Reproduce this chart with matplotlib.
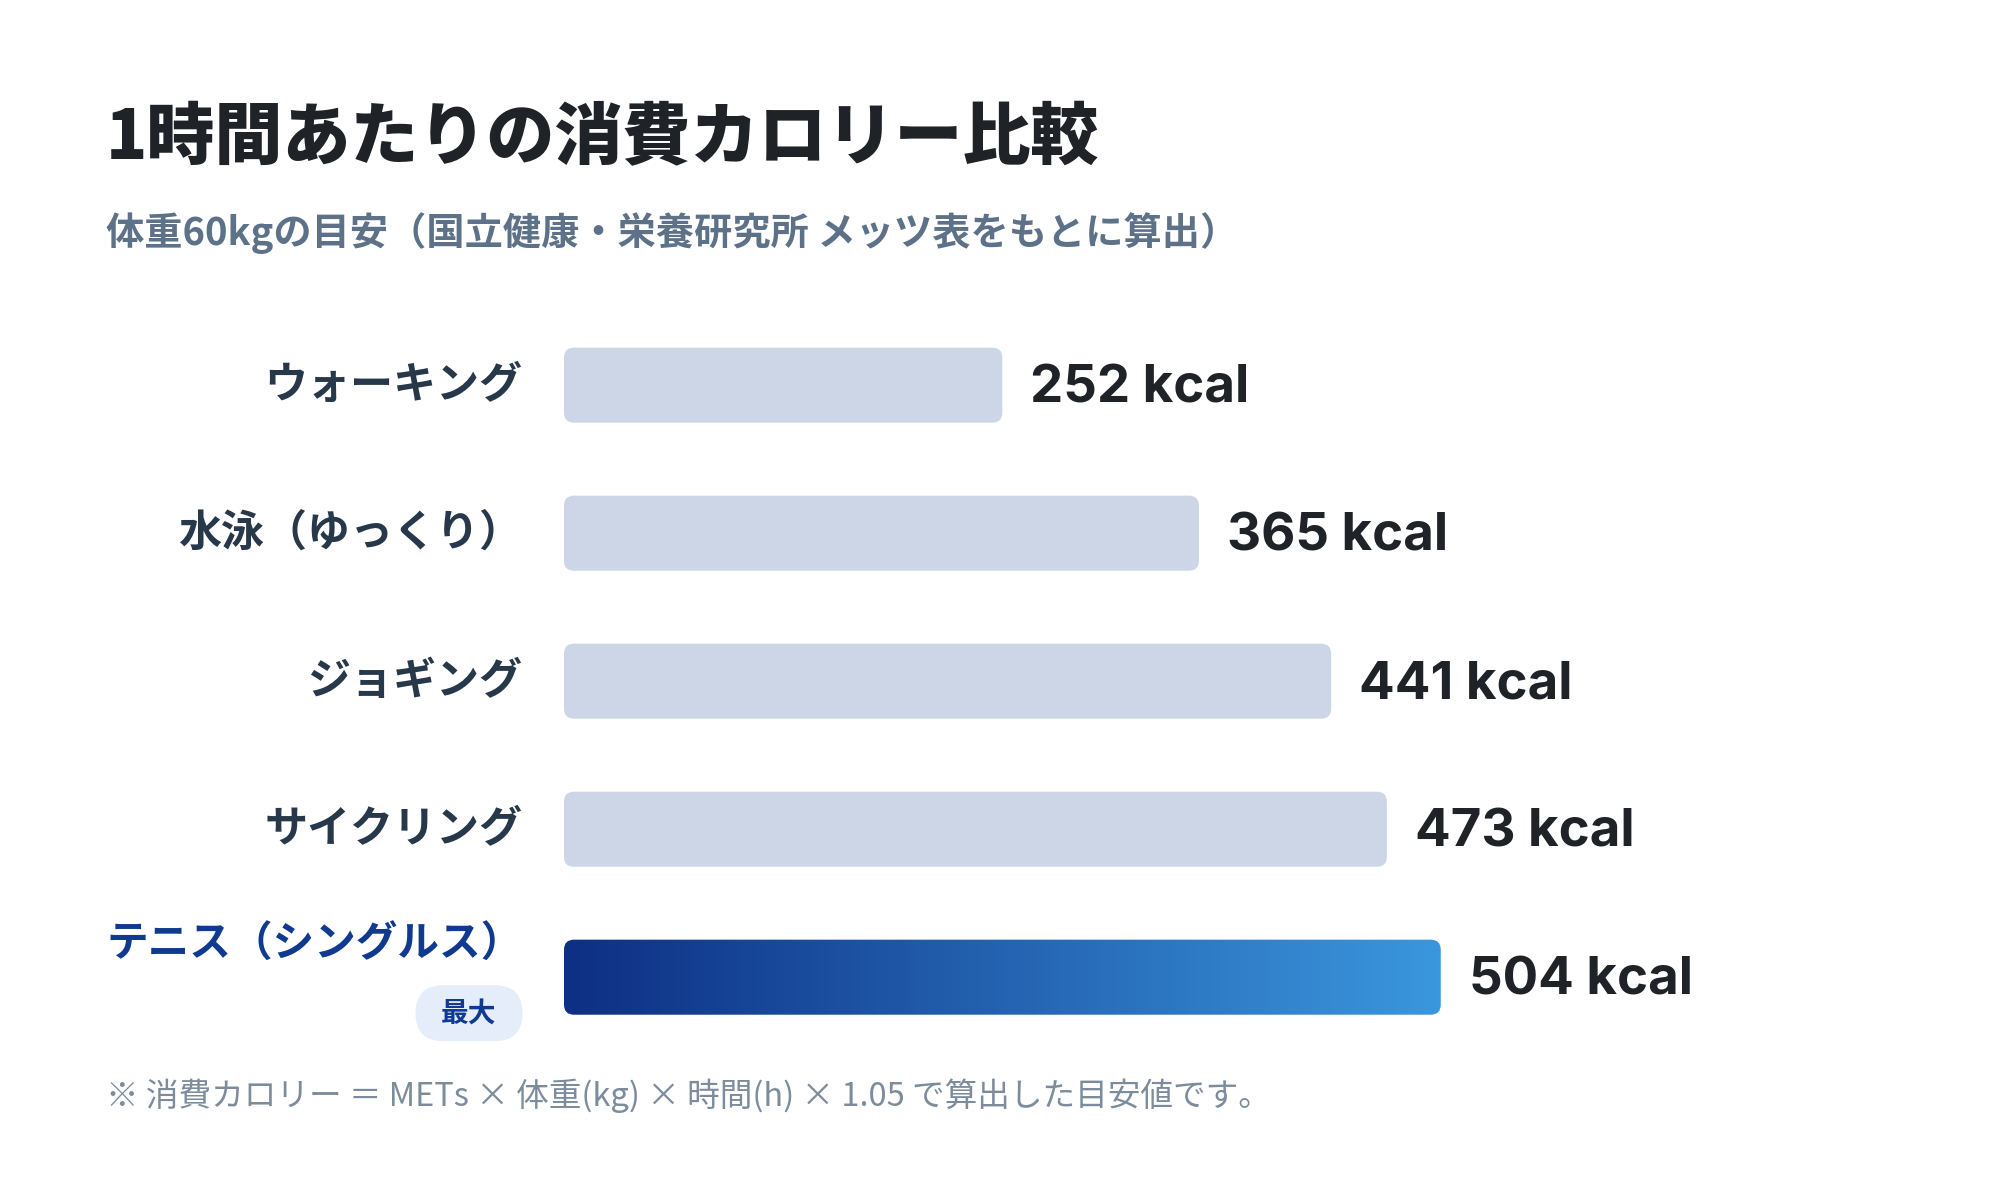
import numpy as np
import matplotlib.pyplot as plt
from matplotlib.patches import FancyBboxPatch
from matplotlib.colors import LinearSegmentedColormap

plt.rcParams['font.family'] = ['Noto Sans CJK JP', 'DejaVu Sans']

# データ
categories = ['ウォーキング', '水泳（ゆっくり）', 'ジョギング', 'サイクリング', 'テニス（シングルス）']
kcal = [252, 365, 441, 473, 504]
value_labels = ['252 kcal', '365 kcal', '441 kcal', '473 kcal', '504 kcal']
highlight = 4
badge = '最大'

title = '1時間あたりの消費カロリー比較'
subtitle = '体重60kgの目安（国立健康・栄養研究所 メッツ表をもとに算出）'
footnote = '※ 消費カロリー ＝ METs × 体重(kg) × 時間(h) × 1.05 で算出した目安値です。'

fig = plt.figure(figsize=(20, 12), dpi=100)
fig.patch.set_facecolor('white')

ax = fig.add_axes([0.282, 0.124, 0.668, 0.6167])
ax.set_xlim(0, 768)
ax.set_ylim(4.5, -0.5)
ax.axis('off')

bar_h = 0.507
# 角丸のためのアスペクト補正（y単位/px ÷ x単位/px）
px_x = 768 / (0.668 * 2000)
px_y = 5 / (0.6167 * 1200)
aspect = px_y / px_x
radius = 10 * px_x

grad_cmap = LinearSegmentedColormap.from_list('g', ['#0d2f84', '#3b97dd'])

for i, (cat, v) in enumerate(zip(categories, kcal)):
    patch = FancyBboxPatch((0, i - bar_h / 2), v, bar_h,
                           boxstyle=f'round,pad=0,rounding_size={radius}',
                           mutation_aspect=aspect, linewidth=0,
                           facecolor='#cdd6e6' if i != highlight else 'none')
    ax.add_patch(patch)
    if i == highlight:
        grad = np.linspace(0, 1, 256).reshape(1, -1)
        im = ax.imshow(grad, cmap=grad_cmap, aspect='auto',
                       extent=(0, v, i + bar_h / 2, i - bar_h / 2), zorder=2)
        im.set_clip_path(patch)

    ax.annotate(value_labels[i], xy=(v, i), xytext=(20, -2.5), textcoords='offset points',
                ha='left', va='center', fontsize=38, fontweight='bold', color='#1f2328',
                family=['Inter', 'DejaVu Sans'])

    if i == highlight:
        ax.annotate(cat, xy=(0, i), xytext=(-30, 23), textcoords='offset points',
                    ha='right', va='center', fontsize=30, fontweight='bold', color='#0f3a8f')
        # 「最大」バッジ
        bw, bh = 107 * px_x, 56 * px_y
        bx, by = -95 * px_x, i + 36 * px_y
        pill = FancyBboxPatch((bx - bw / 2, by - bh / 2), bw, bh,
                              boxstyle=f'round,pad=0,rounding_size={28 * px_x}',
                              mutation_aspect=aspect, linewidth=0,
                              facecolor='#e4edf9', clip_on=False)
        ax.add_patch(pill)
        ax.text(bx, by, badge, ha='center', va='center', fontsize=20,
                fontweight='bold', color='#0f3a8f')
    else:
        ax.annotate(cat, xy=(0, i), xytext=(-30, 0), textcoords='offset points',
                    ha='right', va='center', fontsize=31, fontweight='bold', color='#26384a')

fig.text(0.053, 1 - 139 / 1200, title, fontsize=49, fontweight='heavy',
         color='#1f2328', ha='left', va='center')
fig.text(0.053, 1 - 233 / 1200, subtitle, fontsize=27.5, fontweight='bold',
         color='#5d7288', ha='left', va='center')
fig.text(0.053, 1 - 1096 / 1200, footnote, fontsize=23.5,
         color='#7d8c9c', ha='left', va='center')

fig.savefig('out.png', dpi=100, facecolor='white')
